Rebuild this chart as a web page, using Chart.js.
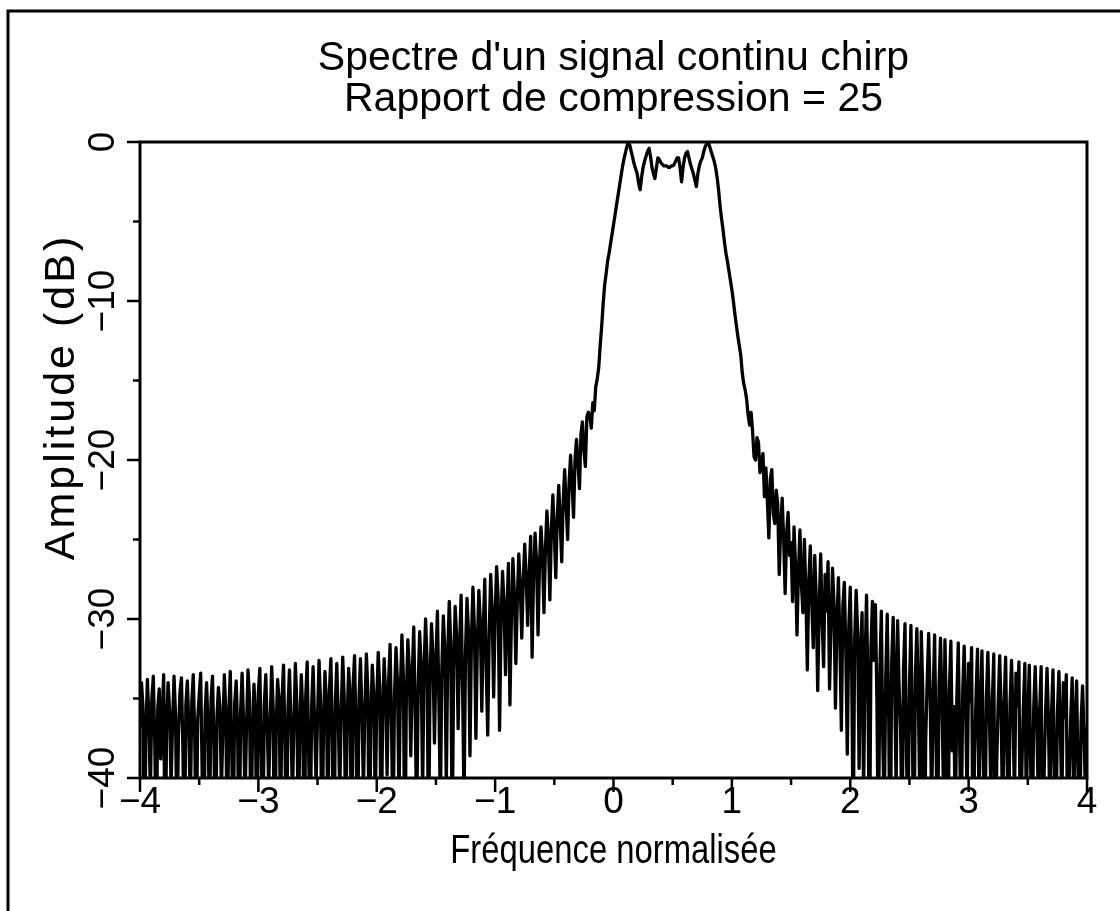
<!DOCTYPE html>
<html>
<head>
<meta charset="utf-8">
<title>Spectre d'un signal continu chirp</title>
<script src="https://cdn.jsdelivr.net/npm/chart.js@4.4.1/dist/chart.umd.min.js"></script>
<style>
  html, body { margin: 0; padding: 0; background: #fff; }
  canvas { display: block; }
</style>
</head>
<body>
<canvas id="spectrumChart" width="1120" height="911"></canvas>
<script>
// Frequency grid of the spectrum (normalised frequency), one sample every 0.0125
const FREQ_START = -4;
const FREQ_STEP = 0.0125;

// Amplitude in dB, split by region, left to right.
// Values below -40 are nulls that run off the bottom of the plot.
const leftTail = [ // -4.0 .. -2.0125
  -36.8, -34.0, -35.5, -46, -37.0, -33.8, -36.2, -41,
  -35.0, -33.6, -37.8, -45, -35.6, -34.4, -38.8, -36.0,
  -33.5, -47, -36.4, -34.0, -35.8, -40.5, -36.6, -33.6,
  -36.0, -44, -37.2, -34.6, -33.7, -38.2, -46, -35.4,
  -33.9, -36.8, -42, -35.2, -33.5, -37.5, -45, -36.3,
  -34.8, -33.4, -39.6, -48, -35.9, -34.0, -36.9, -43,
  -35.1, -33.6, -38.0, -46, -36.2, -34.3, -35.5, -40.8,
  -37.0, -33.5, -35.8, -45, -36.0, -33.3, -38.4, -44,
  -35.3, -33.9, -37.1, -47, -35.8, -33.4, -36.5, -41.5,
  -36.7, -33.2, -35.0, -44, -37.4, -34.1, -35.9, -46,
  -34.6, -33.1, -38.7, -45, -35.4, -33.5, -36.8, -40.6,
  -36.4, -33.0, -35.6, -48, -36.9, -33.8, -35.2, -43,
  -35.0, -32.9, -37.9, -46, -35.7, -33.2, -36.3, -41.2,
  -36.8, -32.8, -35.3, -44, -37.0, -33.5, -35.9, -47,
  -34.9, -32.7, -38.5, -45, -35.5, -33.0, -36.6, -40.3,
  -36.1, -32.6, -35.1, -46, -36.8, -33.3, -35.4, -43,
  -34.5, -32.5, -37.6, -48, -35.3, -32.8, -36.2, -41.0,
  -35.8, -32.4, -34.9, -44, -36.5, -33.1, -35.0, -46,
  -34.2, -32.3, -37.3, -45, -35.0, -32.5, -35.9, -40.7,
  -35.6, -32.2, -34.6, -47, -36.2, -32.9, -34.8, -42
];
const leftSkirt = [ // -2.0 .. -1.0125
  -35.2, -32.1, -34.3, -45, -35.9, -32.5, -34.8, -39.8,
  -34.0, -31.6, -36.8, -44, -34.8, -31.8, -33.9, -41.5,
  -34.4, -31.0, -33.6, -46, -35.0, -31.3, -33.2, -38.6,
  -33.5, -30.5, -36.0, -43, -34.2, -30.8, -33.0, -40.8,
  -33.0, -30.0, -32.6, -45, -33.9, -30.3, -32.4, -37.8,
  -32.6, -29.5, -35.2, -42, -33.1, -29.8, -31.9, -40.5,
  -32.2, -28.9, -31.5, -44, -32.8, -29.2, -31.2, -36.9,
  -31.6, -28.5, -34.3, -41.5, -32.0, -28.7, -30.8, -38.6,
  -31.2, -28.0, -30.6, -37.5, -31.6, -28.2, -30.2, -35.8,
  -30.6, -27.5, -33.2, -37.3, -30.9, -27.2, -29.5, -34.9
];
const leftShoulder = [ // -1.0 .. -0.2125
  -29.8, -26.7, -28.6, -37.0, -30.2, -27.0, -29.0, -33.5,
  -29.4, -26.5, -35.4, -30.0, -26.2, -28.4, -32.8, -28.8,
  -25.9, -28.0, -31.2, -27.6, -25.3, -27.4, -30.4, -27.2,
  -24.8, -32.4, -27.1, -24.6, -26.4, -31.0, -26.5, -24.2,
  -26.0, -29.6, -25.6, -23.2, -25.0, -28.8, -24.4, -22.2,
  -24.6, -27.4, -23.6, -21.6, -23.9, -26.4, -22.6, -20.6,
  -22.8, -25.0, -21.4, -19.7, -21.5, -23.6, -20.0, -18.7,
  -20.2, -21.8, -18.4, -17.6, -19.4, -20.4, -17.3, -17.0
];
const mainLobe = [ // -0.2 .. 1.2875
  -17.2, -18.0, -16.4, -16.9, -15.4, -14.9, -14.2, -12.8,
  -11.6, -10.2, -9.0, -8.3, -7.5, -7.0, -6.4, -5.8,
  -5.2, -4.6, -4.0, -3.4, -2.8, -2.2, -1.6, -1.1,
  -0.7, -0.3, 0.0, -0.2, -0.6, -1.0, -1.4, -1.7,
  -2.0, -2.6, -3.0, -2.2, -1.6, -1.2, -0.9, -0.6,
  -0.4, -0.9, -1.6, -2.0, -2.3, -1.6, -1.0, -1.1,
  -1.3, -1.4, -1.5, -1.5, -1.5, -1.6, -1.6, -1.5,
  -1.5, -1.4, -1.2, -1.0, -1.0, -1.6, -2.5, -1.6,
  -1.0, -0.7, -0.6, -1.0, -1.4, -1.7, -2.0, -2.4,
  -2.8, -2.0, -1.5, -1.2, -1.0, -0.6, -0.3, -0.1,
  0.0, -0.3, -0.6, -0.9, -1.2, -1.6, -2.2, -3.0,
  -4.0, -4.8, -5.5, -6.3, -7.0, -7.5, -8.1, -8.7,
  -9.3, -10.0, -10.8, -11.5, -12.2, -12.8, -13.4, -14.5,
  -15.2, -15.6, -16.2, -17.2, -17.8, -17.0, -18.2, -19.8,
  -20.0, -18.6, -18.9, -20.8, -20.4, -19.6, -22.3, -20.5
];
const rightSkirt = [ // 1.3 .. 1.9875
  -22.6, -24.9, -21.2, -20.6, -23.4, -24.0, -21.9, -22.8,
  -27.2, -24.2, -22.4, -25.0, -28.4, -24.6, -23.3, -26.0,
  -25.2, -28.9, -24.2, -26.6, -31.0, -27.0, -24.4, -27.8,
  -29.6, -25.0, -28.3, -33.2, -27.6, -25.4, -29.0, -31.8,
  -26.0, -28.6, -34.5, -29.4, -25.9, -30.1, -33.0, -27.2,
  -29.5, -26.4, -34.4, -30.4, -26.8, -29.0, -35.6, -30.2,
  -27.4, -31.4, -37.0, -29.2, -27.7, -32.0, -38.5, -30.6
];
const rightTail = [ // 2.0 .. 4.0
  -28.0, -33.5, -44, -31.2, -28.2, -30.8, -39.4, -32.0,
  -29.6, -41.0, -33.0, -28.5, -34.6, -46, -31.8, -28.9,
  -32.6, -29.1, -35.0, -45, -33.3, -29.5, -37.8, -42,
  -33.6, -29.7, -36.2, -47, -32.8, -29.9, -34.0, -40.6,
  -30.1, -34.2, -36.8, -44, -33.1, -30.3, -38.6, -43,
  -34.3, -30.4, -37.2, -46, -33.6, -30.6, -35.0, -41.2,
  -30.8, -34.5, -48, -37.6, -33.9, -30.9, -34.9, -42,
  -35.0, -31.0, -37.9, -45, -34.2, -31.2, -35.3, -40.9,
  -31.3, -36.4, -47, -34.4, -31.4, -38.3, -35.5, -43,
  -35.1, -31.5, -38.0, -44, -34.6, -31.7, -35.6, -41.6,
  -32.8, -35.2, -31.8, -46, -38.6, -34.9, -31.9, -42,
  -35.7, -32.0, -38.9, -45, -35.0, -32.1, -35.9, -40.7,
  -35.3, -32.2, -48, -39.0, -35.2, -32.3, -36.0, -43,
  -35.4, -32.4, -38.8, -44, -35.3, -32.6, -36.1, -41.4,
  -33.4, -35.5, -32.7, -46, -39.3, -35.5, -32.8, -42,
  -36.3, -32.9, -39.5, -45, -35.6, -33.0, -36.4, -40.8,
  -35.8, -33.0, -47, -39.8, -35.8, -33.1, -36.6, -43,
  -36.0, -33.2, -39.6, -44, -36.0, -33.3, -36.8, -41.9,
  -34.0, -36.2, -33.5, -46, -40.0, -36.2, -33.7, -42,
  -36.4, -33.9, -40.2, -45, -36.5, -34.2, -37.2, -41.3,
  -36.8
];

// Axes
const xMajorTicks = [-4, -3, -2, -1, 0, 1, 2, 3, 4];
const xMinorTicks = [-3.5, -2.5, -1.5, -0.5, 0.5, 1.5, 2.5, 3.5];
const xTickLabels = ["\u22124", "\u22123", "\u22122", "\u22121", "0", "1", "2", "3", "4"];
const yMajorTicks = [0, -10, -20, -30, -40];
const yMinorTicks = [-5, -15, -25, -35];
const yTickLabels = ["0", "\u221210", "\u221220", "\u221230", "\u221240"];

const titleLines = ["Spectre d'un signal continu chirp", "Rapport de compression = 25"];
const xAxisTitle = "Fréquence normalisée";
const yAxisTitle = "Amplitude (dB)";

const FONT = "'Liberation Sans', Arial, sans-serif";

const amplitudes = [...leftTail, ...leftSkirt, ...leftShoulder, ...mainLobe, ...rightSkirt, ...rightTail];
const points = amplitudes.map((db, i) => ({ x: FREQ_START + i * FREQ_STEP, y: db }));

// Frame, ticks and labels drawn from the chart's own scales
const axesPlugin = {
  id: "hpAxes",
  afterDraw(chart) {
    const { ctx, chartArea } = chart;
    const xs = chart.scales.x;
    const ys = chart.scales.y;
    const { left, right, top, bottom } = chartArea;

    ctx.save();
    ctx.strokeStyle = "#000";
    ctx.fillStyle = "#000";
    ctx.lineCap = "butt";

    // outer page border (only top and left are in the picture)
    ctx.lineWidth = 3;
    ctx.beginPath();
    ctx.moveTo(8, 911);
    ctx.lineTo(8, 11);
    ctx.lineTo(1120, 11);
    ctx.stroke();

    // plot box
    ctx.strokeRect(left, top, right - left, bottom - top);

    // x ticks below the axis, y ticks left of it
    ctx.lineWidth = 2.5;
    ctx.beginPath();
    xMajorTicks.forEach(v => {
      const px = xs.getPixelForValue(v);
      ctx.moveTo(px, bottom);
      ctx.lineTo(px, bottom + 14);
    });
    xMinorTicks.forEach(v => {
      const px = xs.getPixelForValue(v);
      ctx.moveTo(px, bottom);
      ctx.lineTo(px, bottom + 7);
    });
    yMajorTicks.forEach(v => {
      const py = ys.getPixelForValue(v);
      ctx.moveTo(left, py);
      ctx.lineTo(left - 13, py);
    });
    yMinorTicks.forEach(v => {
      const py = ys.getPixelForValue(v);
      ctx.moveTo(left, py);
      ctx.lineTo(left - 7, py);
    });
    ctx.stroke();

    // tick labels
    ctx.font = `37px ${FONT}`;
    ctx.textAlign = "center";
    ctx.textBaseline = "middle";
    xMajorTicks.forEach((v, i) => {
      ctx.fillText(xTickLabels[i], xs.getPixelForValue(v), bottom + 25);
    });
    yMajorTicks.forEach((v, i) => {
      ctx.save();
      ctx.translate(left - 36, ys.getPixelForValue(v));
      ctx.rotate(-Math.PI / 2);
      ctx.fillText(yTickLabels[i], 0, 0);
      ctx.restore();
    });

    // x axis title: narrow lettering, like the plotter font
    ctx.save();
    ctx.translate((left + right) / 2, bottom + 74);
    ctx.scale(0.8, 1);
    ctx.font = `41px ${FONT}`;
    ctx.fillText(xAxisTitle, 0, 0);
    ctx.restore();

    // y axis title
    ctx.save();
    ctx.translate(left - 78, 397);
    ctx.rotate(-Math.PI / 2);
    ctx.font = `43px ${FONT}`;
    ctx.letterSpacing = "3px";
    ctx.fillText(yAxisTitle, 0, 0);
    ctx.restore();

    ctx.restore();
  }
};

const chartCtx = document.getElementById("spectrumChart").getContext("2d");

new Chart(chartCtx, {
  type: "line",
  data: {
    datasets: [{
      label: "Spectre",
      data: points,
      borderColor: "#000",
      borderWidth: 3.3,
      borderJoinStyle: "round",
      pointRadius: 0,
      tension: 0,
      fill: false
    }]
  },
  options: {
    responsive: false,
    animation: false,
    layout: { padding: { left: 140, right: 33, top: 0, bottom: 133 } },
    plugins: {
      legend: { display: false },
      tooltip: { enabled: false },
      title: {
        display: true,
        text: titleLines,
        color: "#000",
        font: { family: FONT, size: 41, weight: "normal", lineHeight: 1.0 },
        padding: { top: 38, bottom: 22 }
      }
    },
    scales: {
      x: { type: "linear", min: -4, max: 4, display: false },
      y: { type: "linear", min: -40, max: 0, display: false }
    }
  },
  plugins: [axesPlugin]
});
</script>
</body>
</html>
